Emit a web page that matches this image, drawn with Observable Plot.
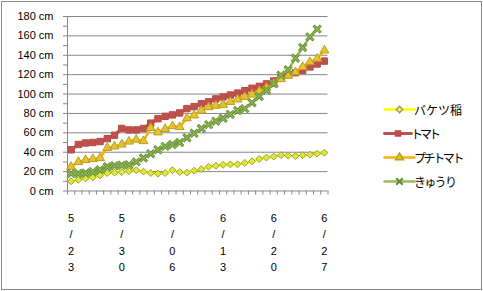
<!DOCTYPE html>
<html><head><meta charset="utf-8">
<script src="https://cdn.jsdelivr.net/npm/d3@7"></script>
<script src="https://cdn.jsdelivr.net/npm/@observablehq/plot@0.6"></script>
<style>
body{margin:0;background:#fff;}
#wrap{position:relative;width:483px;height:291px;overflow:hidden;background:#fff;}
#wrap svg{position:absolute;left:0;top:0;}
#border{position:absolute;left:1px;top:1px;width:481px;height:289px;box-sizing:border-box;border:1px solid #8c8c8c;pointer-events:none}
#legend{position:absolute;left:384px;top:0;font-family:"Noto Sans CJK JP",sans-serif;font-size:12px;color:#000;}
.item{position:absolute;left:0;height:20px;display:flex;align-items:center;white-space:nowrap}
.item svg{position:static !important;}
</style></head><body><div id="wrap"><div id="border"></div><div id="legend"></div></div>
<script>
const dates = ["5/23","5/24","5/25","5/26","5/27","5/28","5/29","5/30","5/31",
  "6/01","6/02","6/03","6/04","6/05","6/06","6/07","6/08","6/09","6/10","6/11","6/12","6/13",
  "6/14","6/15","6/16","6/17","6/18","6/19","6/20","6/21","6/22","6/23","6/24","6/25","6/26","6/27"];
const tickLabels = ["5/23","5/30","6/06","6/13","6/20","6/27"];
const seriesNames = ["バケツ稲","トマト","プチトマト","きゅうり"];
const rice = [10,11.5,13,14,16,18.5,19,19.5,20.5,21.5,20,18.5,18,18.5,21.5,19.5,19,21,22.5,25,26,27,27.5,27.5,29,30.5,33,34.5,35.5,37,36.5,36,37,37.5,38.5,39.5];
const tomato = [42.5,48,49.5,50,51,54,57.5,64.5,63,63,64.5,70,74.5,77,78.5,80.5,85,87,90,92,95,97,99,101,103.5,106,108,110.5,113.5,117,120,122,124.5,128,131,134];
const petit = [25,30,32,33,34,44.5,46,48,51,53,51.5,65,60.5,64,67,66,75,78,83,86.5,88,89,92,94.5,97,99.5,103,106.5,110.5,115.5,119,122.5,128,133,136.5,145];
const cucumber = [18,18,18.5,20,22,25,26,26.5,27,30,34,38.5,42.5,46,48,50,55,59.5,64.5,68.5,72,75,79,83,85,91,97.5,104,110.5,119.5,125,137,148,159,167,null];
const yTicks = [0,20,40,60,80,100,120,140,160,180];

const toRows = arr => arr.map((v, i) => ({i, date: dates[i], v})).filter(d => d.v != null);
const styles = [
  {line: "#ffff00", width: 2.5, symbol: "diamond2", r: 3.1, fill: "#dde83a", stroke: "#9ea52a"},
  {line: "#c0504d", width: 3.2, symbol: "square", r: 3.6, fill: "#c0504d", stroke: "#b84a47"},
  {line: "#ffb000", width: 2.5, symbol: "triangle", r: 3.3, fill: "#e6c22e", stroke: "#b9a021"},
  {line: "#9bbb59", width: 2.5, symbol: "times", r: 3.4, fill: "none", stroke: "#5e8a2e"}
];
const allSeries = [rice, tomato, petit, cucumber];

const grey = "#868686";
const minorY = d3.range(0, 181, 10);
const bounds = d3.range(0, dates.length + 1).map(k => k - 0.5);
const labelIdx = tickLabels.map(t => dates.indexOf(t));

const marks = [
  Plot.ruleY(yTicks.filter(v => v > 0), {stroke: grey, strokeOpacity: 1}),
  Plot.ruleX([-0.5], {stroke: grey, strokeOpacity: 1}),
  Plot.ruleY([0], {stroke: grey, strokeOpacity: 1}),
  Plot.axisY({ticks: minorY, tickSize: 4, tickPadding: 10, label: null,
    tickFormat: d => yTicks.includes(d) ? d + " cm" : "", stroke: grey, fill: "black"}),
  Plot.axisX({ticks: bounds, tickSize: 4, tickFormat: () => "", label: null, stroke: grey, strokeOpacity: 1}),
  Plot.text(labelIdx, {x: d => d, text: d => dates[d].split("").join("\n"),
    frameAnchor: "bottom", lineAnchor: "top", dy: 19, lineHeight: 1.5, fill: "black", fontSize: 11})
];
allSeries.forEach((arr, k) => {
  const s = styles[k];
  const rows = toRows(arr);
  marks.push(Plot.line(rows, {x: "i", y: "v", stroke: s.line, strokeWidth: s.width}));
  if (s.symbol === "times") {
    marks.push(Plot.dot(rows, {x: "i", y: "v", symbol: "times", r: s.r, stroke: s.stroke, strokeWidth: 3}));
    marks.push(Plot.dot(rows, {x: "i", y: "v", symbol: "times", r: s.r, stroke: "#8fb356", strokeWidth: 1.4}));
  } else {
    marks.push(Plot.dot(rows, {x: "i", y: "v", symbol: s.symbol, r: s.r, fill: s.fill, stroke: s.stroke, strokeWidth: 1}));
  }
});

const chart = Plot.plot({
  width: 483, height: 291,
  marginLeft: 67, marginRight: 155.5, marginTop: 16, marginBottom: 100.5,
  x: {type: "linear", domain: [-0.5, dates.length - 0.5], label: null},
  y: {domain: [0, 180], label: null},
  style: {fontFamily: "'Liberation Sans', Arial, sans-serif", fontSize: "11px", color: "black", background: "white", overflow: "visible"},
  marks
});
const wrap = document.getElementById("wrap");
wrap.insertBefore(chart, wrap.firstChild);

// legend
const legend = document.getElementById("legend");
const centers = [109, 133, 157, 181];
const spacing = [0, -3, -2.4, -1.7];
seriesNames.forEach((name, k) => {
  const s = styles[k];
  const item = document.createElement("div");
  item.className = "item";
  item.style.top = (centers[k] - 10) + "px";
  const sw = Plot.plot({
    width: 30, height: 20, margin: 0,
    x: {domain: [0, 2], axis: null}, y: {domain: [0, 1], axis: null},
    style: {background: "transparent", overflow: "visible"},
    marks: [
      Plot.lineY([0.5, 0.5, 0.5], {x: (d, i) => i, y: d => d, stroke: s.line, strokeWidth: s.width}),
      s.symbol === "times"
        ? Plot.dot([1], {x: d => d, y: () => 0.5, symbol: "times", r: 3, stroke: s.stroke, strokeWidth: 2})
        : Plot.dot([1], {x: d => d, y: () => 0.5, symbol: s.symbol, r: s.r * 0.9, fill: k === 0 ? "#f4f7c8" : s.fill, stroke: s.stroke})
    ]
  });
  item.appendChild(sw);
  const t = document.createElement("span");
  t.textContent = name;
  t.style.letterSpacing = spacing[k] + "px";
  item.appendChild(t);
  legend.appendChild(item);
});
</script>
</body></html>
